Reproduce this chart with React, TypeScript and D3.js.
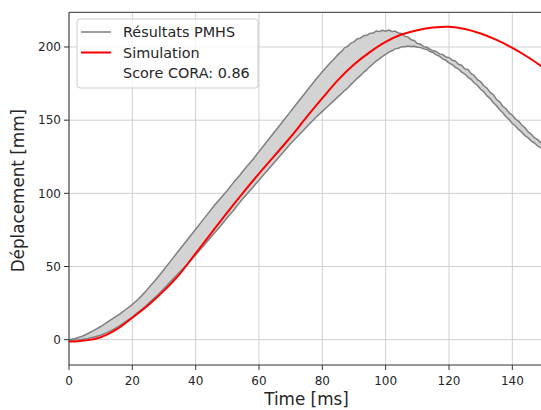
import React from "react";
import * as d3 from "d3";

// ---- Data ----
const pmhsTime: number[] = [
  0, 2, 4, 6, 8, 10, 12, 14, 16, 18, 20, 22, 24, 26, 28, 30, 32, 34, 36, 38,
  40, 42, 44, 46, 48, 50, 52, 54, 56, 58, 60, 62, 64, 66, 68, 70, 72, 74, 76, 78,
  80, 82, 84,
  85, 86, 87, 88, 89, 90, 91, 92, 93, 94, 95, 96, 97, 98, 99,
  100, 101, 102, 103, 104, 105, 106, 107, 108, 109, 110, 111, 112, 113, 114, 115, 116, 117, 118, 119,
  120, 121, 122, 123, 124, 125, 126, 127, 128, 129, 130, 131, 132, 133, 134, 135, 136, 137, 138, 139,
  140, 141, 142, 143, 144, 145, 146, 147, 148, 149, 150,
];
const pmhsUpper: number[] = [
  0, 0.8, 2.2, 4.2, 6.5, 9, 11.8, 14.8, 17.5, 20.8, 24, 28, 32.5, 37.5, 42.5, 48, 53.5, 59, 64.5, 70,
  75.5, 81, 86.5, 92, 97, 102, 107.5, 112.5, 118, 123, 128.5, 134, 139.5, 145, 150.5, 156, 161.5, 167, 172.5, 178,
  183, 188, 192.5,
  195.0, 196.8, 199.4, 200.4, 202.6, 203.5, 205.6, 206.0, 207.6, 208.0, 209.3, 209.5, 210.9, 210.5, 211.4,
  210.8, 211.6, 210.5, 210.9, 209.5, 209.2, 207.3, 206.9, 205.0, 204.5, 202.4, 202.0, 200.2, 199.8, 198.6, 197.4, 196.9, 195.3, 194.8, 193.2,
  192.8, 191.0, 190.4, 188.2, 187.5, 185.0, 184.6, 181.8, 180.4, 177.6, 176.3, 173.5, 171.9, 169.0, 167.4, 164.2, 162.5, 159.5, 157.8, 155.0,
  153.4, 150.8, 149.2, 146.6, 144.8, 142.0, 140.3, 138.0, 136.7, 134.6, 133.0,
];
const pmhsLower: number[] = [
  -0.5, -0.3, 0.2, 0.8, 1.8, 3, 4.8, 7, 9.5, 12.5, 15.5, 19, 22.5, 26.5, 30.5, 35, 39.5, 44, 48.5, 53,
  58, 63, 68, 73, 78, 83.5, 88.5, 94, 99, 104, 109, 114, 119, 124, 129, 134, 138.5, 143, 147.5, 152,
  156, 160, 164,
  166.1, 168.0, 170.2, 171.9, 174.3, 176.4, 178.6, 180.4, 182.6, 184.4, 186.6, 188.4, 190.4, 191.9, 193.6,
  195.0, 196.5, 197.4, 198.7, 199.1, 200.1, 200.2, 200.7, 200.3, 200.5, 199.8, 199.7, 198.7, 198.3, 196.9, 196.2, 194.6, 193.7, 191.9, 190.9,
  189.1, 188.0, 186.1, 184.9, 182.8, 181.5, 179.3, 177.8, 175.4, 173.7, 171.1, 169.3, 166.6, 164.7, 161.9, 159.9, 157.1, 155.1, 152.3, 150.4,
  147.7, 146.0, 143.5, 141.8, 139.4, 137.9, 135.7, 134.4, 132.3, 131.2, 129.5,
];

const simTime: number[] = [
  0, 3, 6, 9, 12, 15, 20, 25, 30, 35, 40, 45, 50, 55, 60, 65, 70, 75, 80, 85,
  90, 95, 100, 105, 110, 115, 120, 125, 130, 135, 140, 145, 150,
];
const simValue: number[] = [
  -1.2, -1.0, -0.3, 1, 3.5, 7, 15, 23.5, 33.5, 45, 59, 73, 87, 100.5, 113.5, 126, 138.5, 152, 165, 177.5,
  188, 196.5, 203.5, 208.5, 211.5, 213.3, 213.8, 212.3, 209.2, 204.8, 199.4, 193, 185.6,
];

const xTicks: number[] = [0, 20, 40, 60, 80, 100, 120, 140];
const yTicks: number[] = [0, 50, 100, 150, 200];

const legendLabels: string[] = ["Résultats PMHS", "Simulation", "Score CORA: 0.86"];

// ---- Layout ----
const W = 541;
const H = 410;
const left = 69;
const right = 544;
const top = 12.3;
const bottom = 365;
const FONT = "'DejaVu Sans', sans-serif";

type P = { t: number; u: number; l: number };
type S = { t: number; v: number };

export default function App() {
  const x = d3.scaleLinear().domain([0, 150]).range([left, right]);
  const y = d3.scaleLinear().domain([-17.3, 223.7]).range([bottom, top]);

  const pmhs: P[] = pmhsTime.map((t, i) => ({ t, u: pmhsUpper[i], l: pmhsLower[i] }));
  const sim: S[] = simTime.map((t, i) => ({ t, v: simValue[i] }));

  const area = d3
    .area<P>()
    .x((d) => x(d.t))
    .y0((d) => y(d.l))
    .y1((d) => y(d.u));
  const upperLine = d3
    .line<P>()
    .x((d) => x(d.t))
    .y((d) => y(d.u));
  const lowerLine = d3
    .line<P>()
    .x((d) => x(d.t))
    .y((d) => y(d.l));
  const simLine = d3
    .line<S>()
    .x((d) => x(d.t))
    .y((d) => y(d.v))
    .curve(d3.curveCatmullRom.alpha(0.5));

  const gridColor = "#cfcfcf";
  const axisColor = "#333";
  const textColor = "#262626";

  const legendX = 77;
  const legendY = 19;
  const rowY = [32, 52.5, 73];

  return (
    <div style={{ position: "fixed", left: 0, top: 0, width: W, height: H, background: "#fff" }}>
      <svg width={W} height={H} style={{ display: "block" }} fontFamily={FONT}>
        <defs>
          <clipPath id="plotClip">
            <rect x={left} y={top} width={right - left} height={bottom - top} />
          </clipPath>
        </defs>
        <rect x={0} y={0} width={W} height={H} fill="#fff" />

        {/* grid */}
        {xTicks.map((t) => (
          <line key={"gx" + t} x1={x(t)} x2={x(t)} y1={top} y2={bottom} stroke={gridColor} strokeWidth={1} />
        ))}
        {yTicks.map((v) => (
          <line key={"gy" + v} x1={left} x2={right} y1={y(v)} y2={y(v)} stroke={gridColor} strokeWidth={1} />
        ))}

        {/* data */}
        <g clipPath="url(#plotClip)">
          <path d={area(pmhs) || ""} fill="#d3d3d3" stroke="none" />
          <path d={upperLine(pmhs) || ""} fill="none" stroke="#7f7f7f" strokeWidth={1.5} strokeLinejoin="round" />
          <path d={lowerLine(pmhs) || ""} fill="none" stroke="#7f7f7f" strokeWidth={1.5} strokeLinejoin="round" />
          <path d={simLine(sim) || ""} fill="none" stroke="#ff0000" strokeWidth={2} />
        </g>

        {/* spines */}
        <line x1={left} x2={left} y1={top} y2={bottom} stroke={axisColor} strokeWidth={1} />
        <line x1={left} x2={right} y1={bottom} y2={bottom} stroke={axisColor} strokeWidth={1} />
        <line x1={left} x2={right} y1={top} y2={top} stroke={axisColor} strokeWidth={1} />
        <line x1={right} x2={right} y1={top} y2={bottom} stroke={axisColor} strokeWidth={1} />

        {/* x ticks */}
        {xTicks.map((t) => (
          <g key={"xt" + t}>
            <line x1={x(t)} x2={x(t)} y1={bottom} y2={bottom + 5} stroke={axisColor} strokeWidth={1} />
            <text x={x(t)} y={385} textAnchor="middle" fontSize={12} fill={textColor}>
              {t}
            </text>
          </g>
        ))}
        {/* y ticks */}
        {yTicks.map((v) => (
          <g key={"yt" + v}>
            <line x1={left - 5} x2={left} y1={y(v)} y2={y(v)} stroke={axisColor} strokeWidth={1} />
            <text x={left - 8} y={y(v)} dy="0.35em" textAnchor="end" fontSize={12} fill={textColor}>
              {v}
            </text>
          </g>
        ))}

        {/* axis labels */}
        <text x={(left + right) / 2} y={405} textAnchor="middle" fontSize={16.8} fill={textColor}>
          Time [ms]
        </text>
        <text
          transform={`translate(23.5, ${(top + bottom) / 2 + 2}) rotate(-90)`}
          textAnchor="middle"
          fontSize={16.8}
          fill={textColor}
        >
          Déplacement [mm]
        </text>

        {/* legend */}
        <rect
          x={legendX}
          y={legendY}
          width={181}
          height={69}
          rx={3}
          fill="#fff"
          fillOpacity={0.8}
          stroke="#cccccc"
          strokeWidth={1}
        />
        <line x1={81} x2={111} y1={rowY[0]} y2={rowY[0]} stroke="#7f7f7f" strokeWidth={1.5} />
        <line x1={81} x2={111} y1={rowY[1]} y2={rowY[1]} stroke="#ff0000" strokeWidth={2} />
        {legendLabels.map((lab, i) => (
          <text key={lab} x={123} y={rowY[i]} dy="0.35em" fontSize={14.4} fill={textColor}>
            {lab}
          </text>
        ))}
      </svg>
    </div>
  );
}
